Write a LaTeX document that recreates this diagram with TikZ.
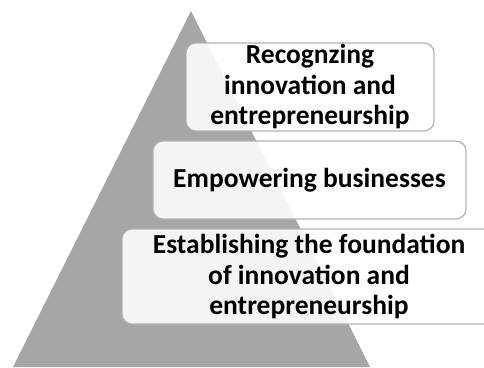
\documentclass[tikz,border=0pt]{standalone}
\usepackage{fontspec}
\setmainfont{Carlito}
\usepackage{tikz}
\usetikzlibrary{positioning}
\tikzstyle{level} = [draw=gray!60, line width=1.2pt, fill=white, fill opacity=0.88, text opacity=1, rounded corners=10pt, align=center, font=\bfseries\fontsize{27.5}{30.5}\selectfont, inner sep=0pt]
\tikzstyle{pyramid} = [fill=gray!70, draw=none]

\begin{document}
\begin{tikzpicture}[x=1pt, y=-1pt]
    \useasboundingbox (0,0) rectangle (484,367);
    % Draw pyramid
    \coordinate (apex) at (191,11);
    \coordinate (baseleft) at (13,367);
    \coordinate (baseright) at (370,367);
    \fill [pyramid] (apex) -- (baseleft) -- (baseright) -- cycle;

    % Draw levels
    \node (recog) [level, minimum width=248pt, minimum height=88pt] at (310,87) {Recognzing\\innovation and\\entrepreneurship};
    \node (empower) [level, minimum width=313pt, minimum height=78pt] at (309.5,180) {Empowering businesses};
    \node (found) [level, minimum width=374pt, minimum height=95pt] at (309,276.5) {Establishing the foundation\\of innovation and\\entrepreneurship};
\end{tikzpicture}
\end{document}
